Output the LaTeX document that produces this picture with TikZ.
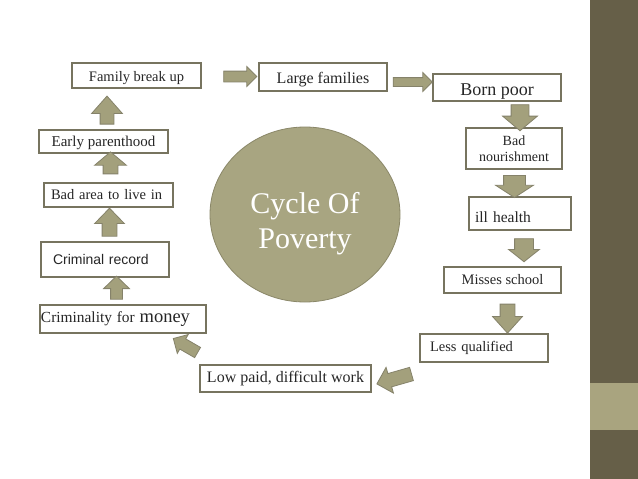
\documentclass[tikz,border=0pt]{standalone}
\usepackage{fontspec}
\setmainfont{Liberation Serif}
\newfontfamily\sansf{Liberation Sans}
\usetikzlibrary{shapes.geometric,shapes.arrows}
\definecolor{band}{HTML}{665F48}
\definecolor{stripe}{HTML}{A9A47F}
\definecolor{circfill}{HTML}{A8A581}
\definecolor{circline}{HTML}{8A8768}
\definecolor{arrfill}{HTML}{A3A07C}
\definecolor{arrline}{HTML}{85826A}
\definecolor{boxline}{HTML}{77745F}
\definecolor{txt}{HTML}{262626}
\pgfdeclareradialshading{vign}{\pgfpoint{0bp}{0bp}}{color(0bp)=(white); color(36bp)=(white); color(50bp)=(black!10); color(60bp)=(black!14); color(75bp)=(black!16)}
\begin{document}
\begin{tikzpicture}[x=1pt,y=-1pt,
  box/.style={draw=boxline, line width=1.3pt, fill=white, rectangle, inner sep=0pt, text=txt, font=\fontsize{14.5}{16}\selectfont},
  blk/.style={single arrow, draw=arrline, fill=arrfill, line width=0.8pt, inner xsep=0pt, single arrow head indent=0pt},
]
\useasboundingbox (0,0) rectangle (638,479);
\begin{scope}
  \clip (0,0) rectangle (590,479);
  \shade[shading=vign] (0,-150) rectangle (590,629);
\end{scope}
\fill[band] (590,0) rectangle (638,479);
\fill[stripe] (590,383) rectangle (638,430);

% central ellipse
\node[ellipse, draw=circline, line width=0.8pt, fill=circfill, minimum width=190pt, minimum height=175pt, inner sep=0pt, text=white, align=center, font=\fontsize{30}{35}\selectfont] (cyc) at (305,214.5) {\rule{0pt}{38.5pt}Cycle Of\\Poverty};

% boxes
\node[box, minimum width=129pt, minimum height=25pt, text height=11.8pt, text depth=0pt] (fam) at (136.5,75.5) {Family break up};
\node[box, minimum width=128pt, minimum height=28pt, font=\fontsize{16}{18}\selectfont, text height=13.4pt, text depth=0pt] (large) at (323,77) {Large families};
\node[box, minimum width=128pt, minimum height=27pt, font=\fontsize{18}{20}\selectfont, text height=15pt, text depth=0pt] (born) at (497,87.5) {Born poor};
\node[box, minimum width=96pt, minimum height=41pt, align=center, font=\fontsize{14}{16}\selectfont] (nour) at (514,148.5) {Bad\\nourishment};
\node[box, text width=90pt, inner xsep=6pt, minimum height=33pt, align=left, font=\fontsize{15.5}{18}\selectfont, text height=17pt, text depth=0pt] (ill) at (520,213.5) {ill health};
\node[box, minimum width=117pt, minimum height=26pt] (miss) at (502.5,280) {Misses school};
\node[box, text width=108pt, inner xsep=10pt, minimum height=28pt, align=left] (less) at (484,348) {Less qualified};
\node[box, minimum width=171pt, minimum height=27pt, font=\fontsize{16}{18}\selectfont] (low) at (285.5,378.5) {Low paid, difficult work};
\node[box, text width=164pt, inner xsep=1pt, minimum height=28pt, align=left] (crim) at (123,319) {\fontsize{15.4}{18}\selectfont Criminality for \fontsize{18.5}{20}\selectfont money};
\node[box, text width=104pt, inner xsep=12pt, minimum height=35pt, align=left, font=\sansf\fontsize{14}{16}\selectfont] (rec) at (105,259.5) {Criminal record};
\node[box, text width=115pt, inner xsep=7pt, minimum height=24pt, align=left] (area) at (108.5,195) {Bad area to live in};
\node[box, minimum width=129pt, minimum height=23pt, font=\fontsize{15}{17}\selectfont, text height=10.9pt, text depth=0pt] (early) at (103.5,141.5) {Early parenthood};

% block arrows (inner ysep = half shaft width)
\node[blk, minimum height=33pt, inner ysep=5pt, single arrow head extend=4.5pt, single arrow tip angle=90] (a1) at (237.5,76.5) {};
\node[blk, minimum height=39pt, inner ysep=4pt, single arrow head extend=5pt, single arrow tip angle=90] (a2) at (410.5,82) {};
\node[blk, rotate=-90, minimum height=26pt, inner ysep=8.5pt, single arrow head extend=8.5pt, single arrow tip angle=100] (d1) at (520,114) {};
\node[blk, rotate=-90, minimum height=22pt, inner ysep=10.5pt, single arrow head extend=8pt, single arrow tip angle=114] (d2) at (514.5,183) {};
\node[blk, rotate=-90, minimum height=23pt, inner ysep=9pt, single arrow head extend=6pt, single arrow tip angle=103] (d3) at (524,246.5) {};
\node[blk, rotate=-90, minimum height=29pt, inner ysep=7pt, single arrow head extend=7.5pt, single arrow tip angle=84] (d4) at (507.5,314.5) {};
\node[blk, rotate=196, minimum height=36pt, inner ysep=6.5pt, single arrow head extend=6.5pt, single arrow tip angle=90] (g1) at (397.5,378) {};
\node[blk, rotate=150, minimum height=28pt, inner ysep=5.5pt, single arrow head extend=5pt, single arrow tip angle=90] (g2) at (188,347) {};
\node[blk, rotate=90, minimum height=23pt, inner ysep=5.5pt, single arrow head extend=7pt, single arrow tip angle=92] (u4) at (116.5,290.5) {};
\node[blk, rotate=90, minimum height=28pt, inner ysep=7pt, single arrow head extend=7.5pt, single arrow tip angle=88] (u3) at (109.5,226) {};
\node[blk, rotate=90, minimum height=22pt, inner ysep=7pt, single arrow head extend=8.5pt, single arrow tip angle=100] (u2) at (110.5,166) {};
\node[blk, rotate=90, minimum height=28pt, inner ysep=6.5pt, single arrow head extend=8.5pt, single arrow tip angle=83] (u1) at (107,114) {};
\end{tikzpicture}
\end{document}
